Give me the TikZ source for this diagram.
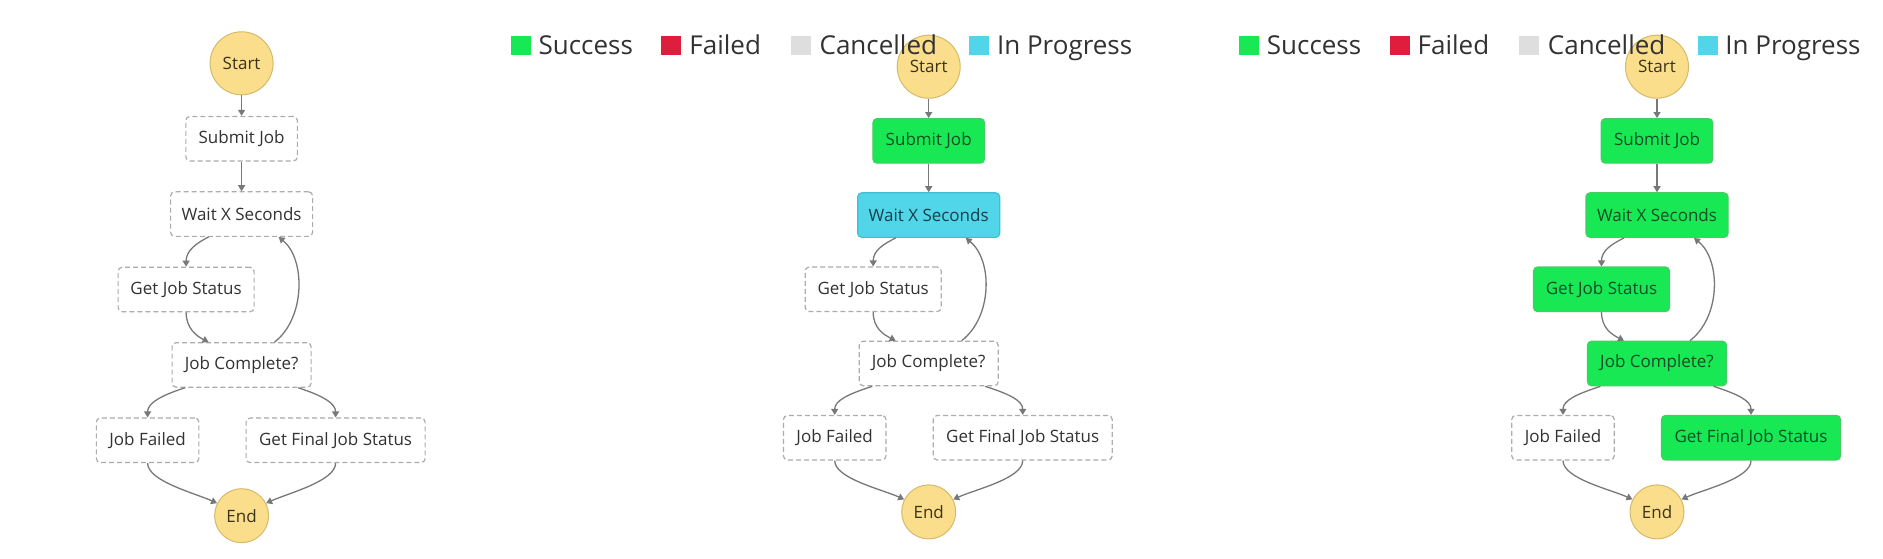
\documentclass[tikz,border=0pt]{standalone}
\usepackage{fontspec}
\setmainfont{Open Sans}
\usetikzlibrary{arrows.meta}
\definecolor{okfill}{RGB}{24,232,84}
\definecolor{okdraw}{RGB}{70,205,100}
\definecolor{oktext}{RGB}{18,78,38}
\definecolor{runfill}{RGB}{80,214,232}
\definecolor{rundraw}{RGB}{64,190,212}
\definecolor{runtext}{RGB}{22,62,72}
\definecolor{failfill}{RGB}{222,30,60}
\definecolor{cancfill}{RGB}{222,222,222}
\definecolor{termfill}{RGB}{250,222,140}
\definecolor{termdraw}{RGB}{214,186,108}
\definecolor{termtext}{RGB}{60,50,25}
\definecolor{dashgrey}{RGB}{172,172,172}
\definecolor{txtgrey}{RGB}{50,50,50}
\definecolor{edgegrey}{RGB}{120,120,120}
\newcommand\bxfont{\fontsize{17}{20}\selectfont}
\newcommand\lgfont{\fontsize{26}{30}\selectfont}
\tikzset{
  box/.style={rectangle, rounded corners=4pt, minimum height=44.5pt, inner sep=0pt, font=\bxfont, line width=1.2pt},
  dbox/.style={box, draw=dashgrey, dash pattern=on 5pt off 3pt, fill=white, text=txtgrey},
  okbox/.style={box, draw=okdraw, fill=okfill, text=oktext},
  runbox/.style={box, draw=rundraw, fill=runfill, text=runtext},
  termnode/.style={circle, draw=termdraw, fill=termfill, text=termtext, line width=1pt, inner sep=0pt, font=\bxfont},
  edge/.style={draw=edgegrey, line width=1.3pt, -{Triangle[width=7pt,length=6pt]}},
  lgsq/.style={rectangle, inner sep=0pt, minimum width=20pt, minimum height=19pt},
  lgtxt/.style={anchor=base west, inner sep=0pt, font=\lgfont, text=txtgrey},
}
\newcommand\flowgraph[2]{%
  \node[termnode, minimum size=63pt] (#1st) at (0,0) {Start};
  \node[sSub, minimum width=111.5pt] (#1sub) at (0,{#2}) {Submit Job};
  \node[sWait, minimum width=142pt] (#1wait) at (0,{2*#2}) {Wait X Seconds};
  \node[sGjs, minimum width=136pt] (#1gjs) at (-55.5,{3*#2}) {Get Job Status};
  \node[sJc, minimum width=139pt] (#1jc) at (0,{4*#2}) {Job Complete?};
  \node[sJf, minimum width=102.5pt] (#1jf) at (-94,{5*#2}) {Job Failed};
  \node[sGf, minimum width=179pt] (#1gf) at (94,{5*#2}) {Get Final Job Status};
  \node[termnode, minimum size=54pt] (#1end) at (0,{6*#2}) {End};
  \draw[edge] (#1st) -- (#1sub);
  \draw[edge] (#1sub) -- (#1wait);
  \draw[edge] ([xshift=-33pt]#1wait.south) .. controls +(-12,6) and +(0,-16) .. (#1gjs.north);
  \draw[edge] (#1gjs.south) .. controls +(0,16) and +(-12,-6) .. ([xshift=-33pt]#1jc.north);
  \draw[edge] ([xshift=33pt]#1jc.north) .. controls +(31,-24) and +(27,22) .. ([xshift=37pt]#1wait.south);
  \draw[edge] ([xshift=-56.5pt]#1jc.south) .. controls +(-25,8) and +(0,-14) .. (#1jf.north);
  \draw[edge] ([xshift=56.5pt]#1jc.south) .. controls +(25,8) and +(0,-14) .. (#1gf.north);
  \draw[edge] (#1jf.south) .. controls +(0,18) and +(-22,-10) .. (#1end.153);
  \draw[edge] (#1gf.south) .. controls +(0,18) and +(22,-10) .. (#1end.27);
}
\newcommand\legendrow[1]{%
  \node[lgsq, fill=okfill] (#1q1) at (-408,45.8) {};
  \node[lgtxt] (#1t1) at (-390.3,55) {Success};
  \node[lgsq, fill=failfill] (#1q2) at (-257.5,45.8) {};
  \node[lgtxt] (#1t2) at (-239.5,55) {Failed};
  \node[lgsq, fill=cancfill] (#1q3) at (-127.8,45.8) {};
  \node[lgtxt] (#1t3) at (-109.3,55) {Cancelled};
  \node[lgsq, fill=runfill] (#1q4) at (50.5,45.8) {};
  \node[lgtxt] (#1t4) at (68.2,55) {In Progress};
}
\begin{document}
\begin{tikzpicture}[x=1pt,y=-1pt]
  \fill[white] (0,0) rectangle (1883,559);
  \useasboundingbox (0,0) rectangle (1883,559);
  % panel 1
  \begin{scope}[shift={(241.6,63.3)},
      sSub/.style=dbox, sWait/.style=dbox, sGjs/.style=dbox,
      sJc/.style=dbox, sJf/.style=dbox, sGf/.style=dbox]
    \flowgraph{a}{75.4}
  \end{scope}
  % panel 2
  \begin{scope}[shift={(928.7,66.7)},
      sSub/.style=okbox, sWait/.style=runbox, sGjs/.style=dbox,
      sJc/.style=dbox, sJf/.style=dbox, sGf/.style=dbox]
    \flowgraph{b}{74.2}
  \end{scope}
  \begin{scope}[shift={(928.7,0)}]
    \legendrow{bl}
  \end{scope}
  % panel 3
  \begin{scope}[shift={(1657,66.7)},
      sSub/.style=okbox, sWait/.style=okbox, sGjs/.style=okbox,
      sJc/.style=okbox, sJf/.style=dbox, sGf/.style=okbox]
    \flowgraph{c}{74.2}
  \end{scope}
  \begin{scope}[shift={(1657,0)}]
    \legendrow{cl}
  \end{scope}
\end{tikzpicture}
\end{document}
